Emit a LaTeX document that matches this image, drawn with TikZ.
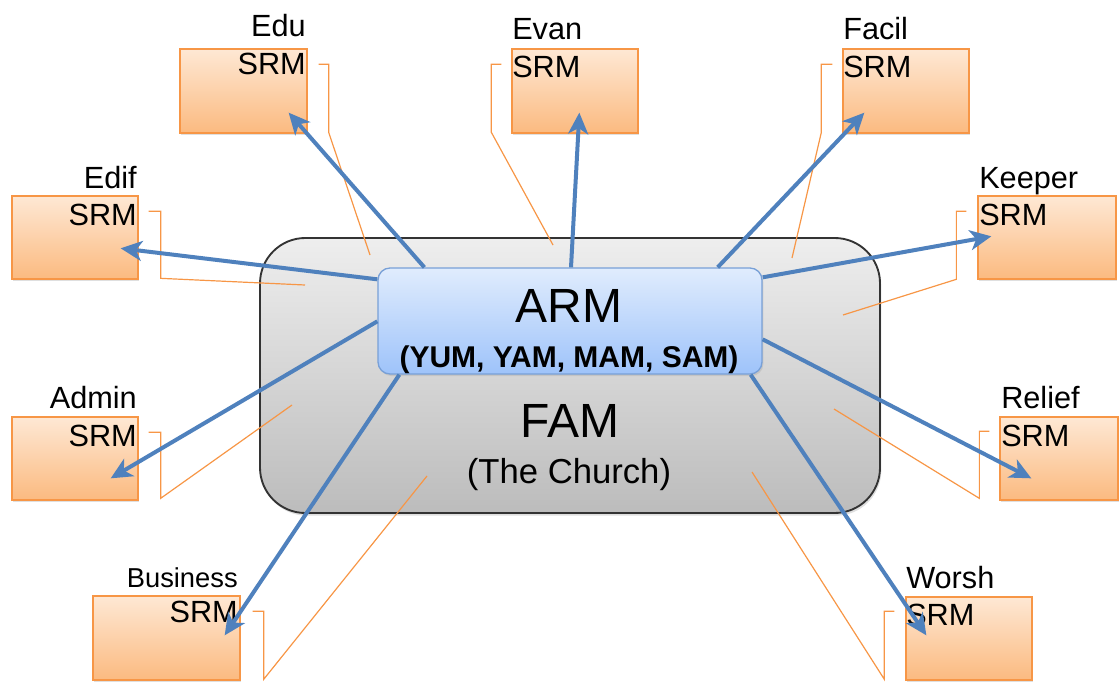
\documentclass[tikz,border=0pt]{standalone}
\usepackage{fontspec}
\setmainfont{Liberation Sans}
\usetikzlibrary{arrows.meta,calc,fit,shadows}
\definecolor{orTop}{RGB}{254,232,212}
\definecolor{orBot}{RGB}{251,186,128}
\definecolor{orLine}{RGB}{247,150,70}
\definecolor{blTop}{RGB}{224,236,253}
\definecolor{blBot}{RGB}{158,195,250}
\definecolor{blLine}{RGB}{120,160,215}
\definecolor{arrBlue}{RGB}{79,129,189}
\definecolor{gyTop}{RGB}{238,238,238}
\definecolor{gyBot}{RGB}{188,188,188}
\begin{document}
\begin{tikzpicture}[x=0.75pt,y=-0.75pt,
  srmbox/.style={draw=orLine, line width=1pt, top color=orTop, bottom color=orBot,
    inner sep=0pt, drop shadow={opacity=0.25, shadow xshift=1pt, shadow yshift=-1.5pt}},
  callout/.style={draw=orLine, line width=0.9pt},
  famrect/.style={draw=black!80, line width=1.4pt, rounded corners=34pt, top color=gyTop,
    bottom color=gyBot, inner sep=0pt, drop shadow={opacity=0.25, shadow xshift=1pt, shadow yshift=-2pt}},
  armrect/.style={draw=blLine, line width=1pt, rounded corners=9pt, top color=blTop,
    bottom color=blBot, inner sep=0pt, drop shadow={opacity=0.2, shadow xshift=1pt, shadow yshift=-1.5pt}},
  txt/.style={inner sep=0pt, font=\fontsize{23}{27}\selectfont},
  arr/.style={draw=arrBlue, line width=3pt, -{Stealth[length=16pt, width=15pt, inset=4.5pt]}}
]
\useasboundingbox (0,0) rectangle (1119,681);
\clip (0,0) rectangle (1119,681);

% big rectangle
\node[famrect, fit={(260,238)(880,513)}] (fam) {};

% callout leader end points
\coordinate (eduL) at (370,255);
\coordinate (evanL) at (553,245);
\coordinate (facilL) at (792,258);
\coordinate (edifL) at (305,285);
\coordinate (keeperL) at (843,315);
\coordinate (adminL) at (292,405);
\coordinate (reliefL) at (834,409);
\coordinate (busL) at (427,476);
\coordinate (worshL) at (752,472);

% boxes
\node[srmbox, fit={(180,49)(307,133)}] (edu) {};
\node[srmbox, fit={(512,49)(638,133)}] (evan) {};
\node[srmbox, fit={(843,49)(969,133)}] (facil) {};
\node[srmbox, fit={(12,196)(138,279)}] (edif) {};
\node[srmbox, fit={(978,196)(1116,279)}] (keeper) {};
\node[srmbox, fit={(12,417)(138,500)}] (admin) {};
\node[srmbox, fit={(1000,417)(1118,500)}] (relief) {};
\node[srmbox, fit={(93,596)(240,680)}] (bus) {};
\node[srmbox, fit={(906,597)(1032,680)}] (worsh) {};

% callout bars and leaders
\draw[callout] ($(edu.north east)+(11,16)$) -- ++(10,0) -- ++(0,68) -- (eduL);
\draw[callout] ($(evan.north west)+(-10,16)$) -- ++(-10,0) -- ++(0,68) -- (evanL);
\draw[callout] ($(facil.north west)+(-10,16)$) -- ++(-11,0) -- ++(0,68) -- (facilL);
\draw[callout] ($(edif.north east)+(10,16)$) -- ++(12,0) -- ++(0,67) -- (edifL);
\draw[callout] ($(keeper.north west)+(-11,16)$) -- ++(-10,0) -- ++(0,68) -- (keeperL);
\draw[callout] ($(admin.north east)+(10,16)$) -- ++(12,0) -- ++(0,66) -- (adminL);
\draw[callout] ($(relief.north west)+(-10,15)$) -- ++(-10,0) -- ++(0,67) -- (reliefL);
\draw[callout] ($(bus.north east)+(12,16)$) -- ++(11,0) -- ++(0,68) -- (busL);
\draw[callout] ($(worsh.north west)+(-11,15)$) -- ++(-10,0) -- ++(0,68) -- (worshL);

% labels and SRM texts
\node[txt, anchor=base east] (eduT) at (306,37) {Edu};
\node[txt, anchor=base east] (eduS) at (306,75) {SRM};
\node[txt, anchor=base west] (evanT) at (512,40) {Evan};
\node[txt, anchor=base west] (evanS) at (512,78) {SRM};
\node[txt, anchor=base west] (facilT) at (843,40) {Facil};
\node[txt, anchor=base west] (facilS) at (843,78) {SRM};
\node[txt, anchor=base east] (edifT) at (137,188) {Edif};
\node[txt, anchor=base east] (edifS) at (137,225) {SRM};
\node[txt, anchor=base west] (keeperT) at (979,188) {Keeper};
\node[txt, anchor=base west] (keeperS) at (979,225) {SRM};
\node[txt, anchor=base east] (adminT) at (137,408) {Admin};
\node[txt, anchor=base east] (adminS) at (137,446) {SRM};
\node[txt, anchor=base west] (reliefT) at (1001,408) {Relief};
\node[txt, anchor=base west] (reliefS) at (1001,446) {SRM};
\node[txt, anchor=base east, font=\fontsize{20.5}{24}\selectfont] (busT) at (238,587) {Business};
\node[txt, anchor=base east] (busS) at (238,622) {SRM};
\node[txt, anchor=base west] (worshT) at (906,588) {Worsh};
\node[txt, anchor=base west] (worshS) at (906,625) {SRM};

% FAM text
\node[inner sep=0pt, anchor=base, font=\fontsize{36}{40}\selectfont] (famT) at (570,437) {FAM};
\node[inner sep=0pt, anchor=base, font=\fontsize{26}{30}\selectfont] (famS) at (569,483) {(The Church)};

% ARM box
\node[armrect, fit={(378,268)(762,374)}] (arm) {};
\node[inner sep=0pt, anchor=base, font=\fontsize{36}{40}\selectfont] (armT) at (569,322) {ARM};
\node[inner sep=0pt, anchor=base, font=\bfseries\fontsize{22.5}{26}\selectfont] (armS) at (569,367) {(YUM, YAM, MAM, SAM)};

% arrows
\draw[arr] ($(arm.north west)+(47,0)$) -- ($(edu.south east)+(-19,-21)$);
\draw[arr] ($(arm.north)+(1,0)$) -- ($(evan.south west)+(68,-21)$);
\draw[arr] ($(arm.north east)+(-45,0)$) -- ($(facil.south west)+(22,-21)$);
\draw[arr] ($(arm.north west)+(0,12)$) -- ($(edif.north east)+(-18,53)$);
\draw[arr] ($(arm.north east)+(0,10)$) -- ($(keeper.north west)+(14,41)$);
\draw[arr] ($(arm.north west)+(0,54)$) -- ($(admin.north east)+(-28,62)$);
\draw[arr] ($(arm.north east)+(0,72)$) -- ($(relief.north west)+(32,62)$);
\draw[arr] ($(arm.south west)+(22,0)$) -- ($(bus.north east)+(-16,40)$);
\draw[arr] ($(arm.south east)+(-12,0)$) -- ($(worsh.north west)+(21,39)$);
\end{tikzpicture}
\end{document}
